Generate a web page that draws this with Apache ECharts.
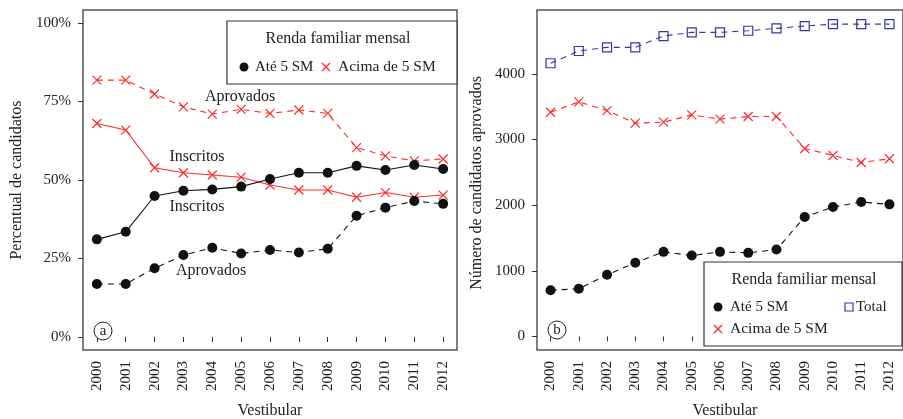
<!DOCTYPE html>
<html>
<head>
<meta charset="utf-8">
<script src="https://cdn.jsdelivr.net/npm/echarts@6/dist/echarts.min.js"></script>
<style>html,body{margin:0;padding:0;background:#fff}#c{width:903px;height:419px}</style>
</head>
<body>
<div id="c"></div>
<script>
var years = [2000,2001,2002,2003,2004,2005,2006,2007,2008,2009,2010,2011,2012];
// Panel (a): percent of candidates
var inscritosAte   = [31.1,33.5,44.9,46.6,47.0,47.9,50.3,52.3,52.3,54.5,53.2,54.8,53.5];
var inscritosAcima = [68.0,65.9,53.9,52.3,51.6,50.9,48.4,46.8,46.8,44.5,46.0,44.5,45.2];
var aprovadosAte   = [16.9,16.9,21.9,26.1,28.4,26.6,27.7,26.9,28.1,38.6,41.2,43.3,42.4];
var aprovadosAcima = [81.8,81.8,77.4,73.3,71.0,72.5,71.2,72.3,71.2,60.3,57.7,56.1,56.7];
// Panel (b): number of approved candidates
var numAte   = [704,725,938,1121,1288,1232,1288,1273,1323,1820,1972,2048,2012];
var numAcima = [3417,3574,3442,3250,3265,3376,3311,3351,3351,2864,2757,2651,2707];
var numTotal = [4163,4350,4406,4406,4578,4634,4634,4659,4695,4730,4760,4760,4760];
var pctTicks = [0,25,50,75,100];
var numTicks = [0,1000,2000,3000,4000];

var FONT = 'Liberation Serif';
var RED = '#ff2a2a', BLUE = '#3535a5', BLACK = '#111';
var CROSS = 'path://M0,0 L10,10 M10,0 L0,10';

function pairs(vals){ return years.map(function(y,i){ return [y, vals[i]]; }); }

function xAxis(idx){
  return {
    type:'value', gridIndex:idx, min:1999.52, max:2012.48,
    axisLine:{show:false}, splitLine:{show:false},
    axisTick:{show:true, inside:false, length:5, customValues:years, lineStyle:{color:'#333'}},
    axisLabel:{customValues:years, rotate:90, margin:11, fontFamily:FONT, fontSize:15, color:'#222',
      formatter:function(v){ return String(Math.round(v)); }}
  };
}
function yAxis(idx, min, max, ticks, fmt){
  return {
    type:'value', gridIndex:idx, min:min, max:max,
    axisLine:{show:false}, splitLine:{show:false},
    axisTick:{show:true, inside:false, length:5, customValues:ticks, lineStyle:{color:'#333'}},
    axisLabel:{customValues:ticks, margin:12, fontFamily:FONT, fontSize:15, color:'#222', formatter:fmt}
  };
}
function line(name, xi, vals, color, dashed, sym, size, itemStyle){
  return {
    name:name, type:'line', xAxisIndex:xi, yAxisIndex:xi, data:pairs(vals),
    symbol:sym, symbolSize:size, showSymbol:true, animation:false,
    lineStyle:{color:color, width:1.1, type: dashed ? [6,5] : 'solid'},
    itemStyle:itemStyle
  };
}
var dotStyle = {color:BLACK, borderWidth:0};
var crossStyle = {color:RED, borderColor:RED, borderWidth:1.2};
var sqStyle = {color:'rgba(0,0,0,0)', borderColor:BLUE, borderWidth:1.2};

var txt = function(x,y,t,opts){
  var s = {text:t, x:0, y:0, font:'16px "'+FONT+'"', fill:'#222', textAlign:'center', textVerticalAlign:'middle'};
  if(opts){ for(var k in opts){ s[k]=opts[k]; } }
  return {type:'text', x:x, y:y, style:s, z:100};
};
var F15 = '15px "'+FONT+'"', F16 = '16px "'+FONT+'"';

var option = {
  backgroundColor:'#fff',
  animation:false,
  grid:[
    {left:83, top:10, width:374, height:340, show:true, borderColor:'#555', borderWidth:1.5, backgroundColor:'transparent'},
    {left:537, top:10, width:375, height:340, show:true, borderColor:'#555', borderWidth:1.5, backgroundColor:'transparent'}
  ],
  xAxis:[xAxis(0), xAxis(1)],
  yAxis:[
    yAxis(0, -4.14, 104.14, pctTicks, function(v){ return v + '%'; }),
    yAxis(1, -208, 4975, numTicks, function(v){ return String(v); })
  ],
  series:[
    line('Aprovados Acima', 0, aprovadosAcima, RED, true, CROSS, 9, crossStyle),
    line('Inscritos Acima', 0, inscritosAcima, RED, false, CROSS, 9, crossStyle),
    line('Inscritos Ate', 0, inscritosAte, BLACK, false, 'circle', 10, dotStyle),
    line('Aprovados Ate', 0, aprovadosAte, BLACK, true, 'circle', 10, dotStyle),
    line('Total', 1, numTotal, BLUE, true, 'rect', 9, sqStyle),
    line('Acima', 1, numAcima, RED, true, CROSS, 9, crossStyle),
    line('Ate', 1, numAte, BLACK, true, 'circle', 10, dotStyle)
  ],
  graphic:[
    // axis titles
    {type:'text', x:17, y:180, rotation:Math.PI/2, style:{text:'Percentual de candidatos', font:F16, fill:'#222', textAlign:'center', textVerticalAlign:'middle'}},
    {type:'text', x:477, y:183, rotation:Math.PI/2, style:{text:'Número de candidatos aprovados', font:F16, fill:'#222', textAlign:'center', textVerticalAlign:'middle'}},
    txt(270, 411, 'Vestibular'),
    txt(725, 411, 'Vestibular'),
    // annotations panel a
    txt(240, 97, 'Aprovados'),
    txt(197, 157, 'Inscritos'),
    txt(197, 207, 'Inscritos'),
    txt(211, 271, 'Aprovados'),
    // panel letters
    {type:'circle', shape:{cx:103, cy:331, r:9}, style:{fill:'#fff', stroke:'#222', lineWidth:1}, z:100},
    txt(103, 331, 'a', {font:F15}),
    {type:'circle', shape:{cx:557, cy:330, r:9}, style:{fill:'#fff', stroke:'#222', lineWidth:1}, z:100},
    txt(557, 330, 'b', {font:F15}),
    // legend a
    {type:'rect', shape:{x:227, y:21, width:230, height:63}, style:{fill:'#fff', stroke:'#333', lineWidth:1.2}, z:90},
    txt(338, 39, 'Renda familiar mensal', {font:F16}),
    {type:'circle', shape:{cx:244, cy:67, r:4.5}, style:{fill:BLACK}, z:100},
    txt(255, 67, 'Até 5 SM', {font:F15, textAlign:'left'}),
    {type:'polyline', shape:{points:[[322,63],[330,71]]}, style:{stroke:RED, lineWidth:1.2}, z:100},
    {type:'polyline', shape:{points:[[330,63],[322,71]]}, style:{stroke:RED, lineWidth:1.2}, z:100},
    txt(338, 67, 'Acima de 5 SM', {font:'15.5px "'+FONT+'"', textAlign:'left'}),
    // legend b
    {type:'rect', shape:{x:704, y:262, width:198, height:84}, style:{fill:'#fff', stroke:'#333', lineWidth:1.2}, z:90},
    txt(804, 280, 'Renda familiar mensal', {font:F16}),
    {type:'circle', shape:{cx:718, cy:307, r:4.5}, style:{fill:BLACK}, z:100},
    txt(730, 307, 'Até 5 SM', {font:F15, textAlign:'left'}),
    {type:'rect', shape:{x:845, y:303, width:8, height:8}, style:{fill:'none', stroke:BLUE, lineWidth:1.2}, z:100},
    txt(856, 307, 'Total', {font:F15, textAlign:'left'}),
    {type:'polyline', shape:{points:[[714,325],[722,333]]}, style:{stroke:RED, lineWidth:1.2}, z:100},
    {type:'polyline', shape:{points:[[722,325],[714,333]]}, style:{stroke:RED, lineWidth:1.2}, z:100},
    txt(730, 329, 'Acima de 5 SM', {font:'15.5px "'+FONT+'"', textAlign:'left'})
  ]
};
var chart = echarts.init(document.getElementById('c'), null, {renderer:'canvas'});
chart.setOption(option);
</script>
</body>
</html>
